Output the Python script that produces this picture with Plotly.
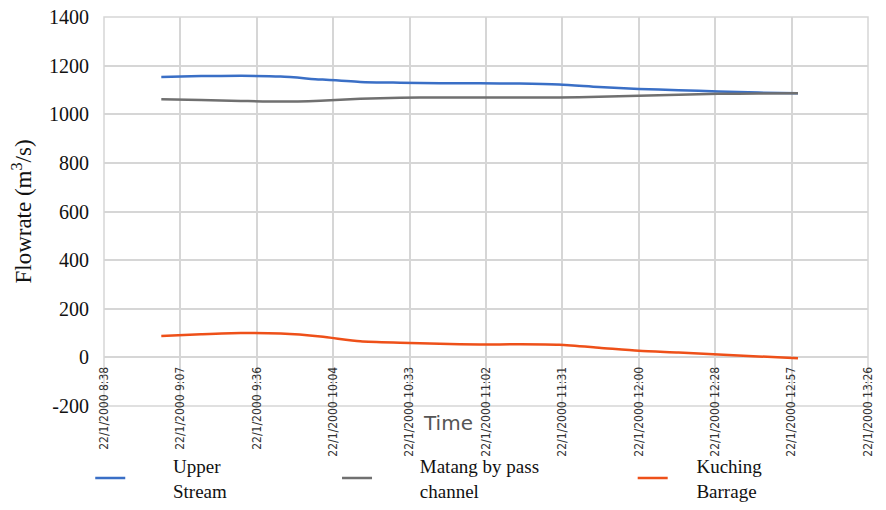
import plotly.graph_objects as go
from datetime import datetime, timedelta

# ---- data ----
TIMES = ["2000-01-22 09:00", "2000-01-22 09:15", "2000-01-22 09:30", "2000-01-22 09:45",
         "2000-01-22 10:00", "2000-01-22 10:15", "2000-01-22 10:30", "2000-01-22 10:45",
         "2000-01-22 11:00", "2000-01-22 11:15", "2000-01-22 11:30", "2000-01-22 11:45",
         "2000-01-22 12:00", "2000-01-22 12:15", "2000-01-22 12:30", "2000-01-22 12:45",
         "2000-01-22 13:00"]
UPPER_STREAM = [1153, 1157, 1158, 1155, 1143, 1133, 1130, 1128, 1127, 1126, 1122, 1112,
                1104, 1099, 1094, 1089, 1086]
MATANG = [1062, 1059, 1055, 1052, 1056, 1064, 1068, 1069, 1069, 1069, 1069, 1072,
          1076, 1080, 1084, 1085, 1086]
KUCHING = [88, 95, 100, 98, 86, 66, 60, 56, 53, 54, 52, 40, 27, 20, 12, 4, -4]
SERIES_NAMES = ["Upper<br>Stream", "Matang by pass<br>channel", "Kuching<br>Barrage"]
TICK_LABELS = ["22/1/2000 8:38", "22/1/2000 9:07", "22/1/2000 9:36", "22/1/2000 10:04",
               "22/1/2000 10:33", "22/1/2000 11:02", "22/1/2000 11:31", "22/1/2000 12:00",
               "22/1/2000 12:28", "22/1/2000 12:57", "22/1/2000 13:26"]
Y_TICKS = [-200, 0, 200, 400, 600, 800, 1000, 1200, 1400]

COLORS = ["#3a6fc6", "#707070", "#ee5019"]
GRID = "#d6d6d6"
SERIF = "Liberation Serif, Times New Roman, serif"

start = datetime(2000, 1, 22, 8, 38, 24)
step = timedelta(minutes=28, seconds=48)
tickvals = [(start + i * step).strftime("%Y-%m-%d %H:%M:%S") for i in range(len(TICK_LABELS))]

PADS = [9, 9, 5]
fig = go.Figure()
legends = ["legend", "legend2", "legend3"]
for name, vals, col, lg, npad in zip(SERIES_NAMES, [UPPER_STREAM, MATANG, KUCHING], COLORS, legends, PADS):
    label = "<br>".join("\u00a0" * npad + part for part in name.split("<br>"))
    fig.add_trace(go.Scatter(x=TIMES, y=vals, name=label, mode="lines",
                             line=dict(color=col, width=2.5, shape="spline", smoothing=0.7),
                             legend=lg))

legend_font = dict(family=SERIF, size=19, color="#111")
leg_common = dict(orientation="h", yanchor="top", y=-0.105, xanchor="left",
                  font=legend_font, bgcolor="rgba(0,0,0,0)", tracegroupgap=0)

fig.update_layout(
    width=886, height=510,
    margin=dict(l=104, r=18, t=17, b=104, autoexpand=False),
    paper_bgcolor="white", plot_bgcolor="white",
    showlegend=True,
    legend=dict(x=-0.018, **leg_common),
    legend2=dict(x=0.305, **leg_common),
    legend3=dict(x=0.692, **leg_common),
    xaxis=dict(
        type="date",
        range=[tickvals[0], tickvals[-1]],
        tickmode="array", tickvals=tickvals, ticktext=TICK_LABELS,
        tickangle=-90,
        tickfont=dict(family="DejaVu Sans Condensed, Liberation Sans Narrow, Arial Narrow, sans-serif",
                      size=12, color="#333"),
        showgrid=True, gridcolor=GRID, gridwidth=1.5,
        zeroline=False, showline=False, ticks="",
        anchor="free", position=0.125,
        ticklabelstandoff=6, automargin=False,
    ),
    yaxis=dict(
        range=[-200, 1400], tickmode="array",
        tickvals=Y_TICKS, ticktext=[str(v) for v in Y_TICKS],
        tickfont=dict(family=SERIF, size=20, color="#111"),
        showgrid=True, gridcolor=GRID, gridwidth=1.5,
        zeroline=False, showline=False, ticks="",
        ticklabelstandoff=14, automargin=False,
        title=dict(text="Flowrate (m<sup>3</sup>/s)", standoff=10,
                   font=dict(family=SERIF, size=23, color="#111")),
    ),
    shapes=[dict(type="rect", xref="paper", yref="paper", x0=0, x1=1, y0=0, y1=1,
                 line=dict(color=GRID, width=1.5), layer="below")],
    annotations=[dict(text="Time", xref="paper", yref="paper", x=0.45, y=-0.044,
                      showarrow=False, xanchor="center", yanchor="middle",
                      font=dict(family="DejaVu Sans, sans-serif", size=20, color="#555"))],
)

fig.write_html("out.html", config={"displayModeBar": False},
               post_script="document.body.style.margin='0px';document.body.style.overflow='hidden';")
